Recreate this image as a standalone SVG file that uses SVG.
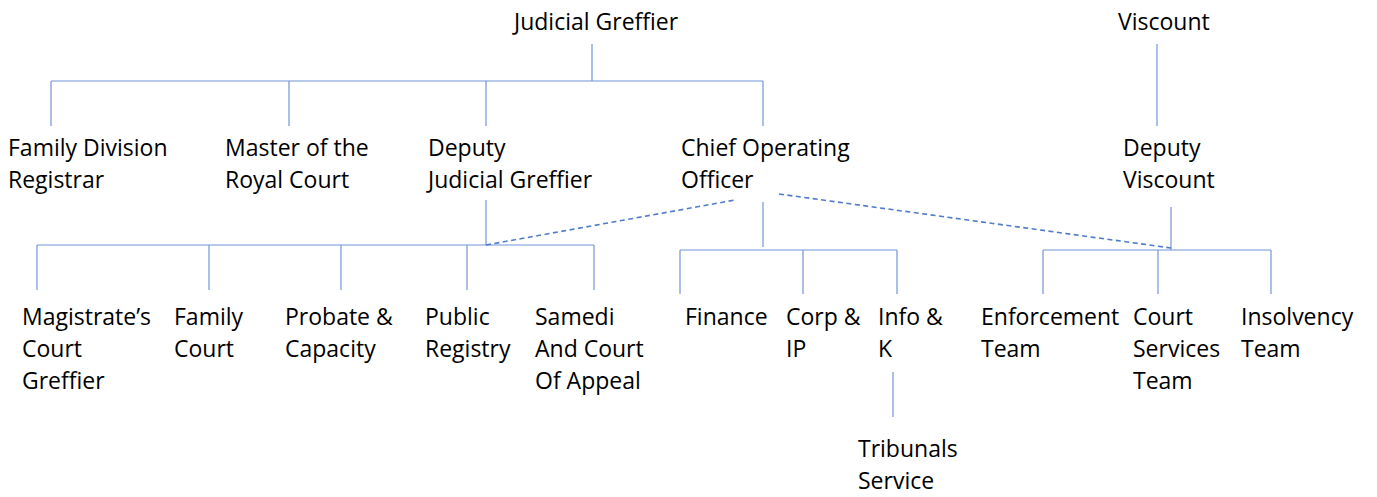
<svg xmlns="http://www.w3.org/2000/svg" width="1377" height="497" viewBox="0 0 1377 497">
<style>
text{font-family:"Open Sans","Noto Sans","Liberation Sans",sans-serif;font-size:23px;fill:#000}
.l{stroke:#7396d8;stroke-width:1.2;fill:none}
.d{stroke:#4f7bc8;stroke-width:1.6;fill:none;stroke-dasharray:5 3.5}
</style>
<rect width="1377" height="497" fill="#fff"/>
<g id="connectors">
<path class="l" d="M592 44V81M51 81H763M51 81V126M289 81V126M486 81V126M763 81V126"/>
<path class="l" d="M1157 44V126"/>
<path class="l" d="M486 200V245M37 245H594M37 245V290M209 245V290M341 245V290M467 245V290M594 245V290"/>
<path class="l" d="M763 202V247M680 250H897M680 250V294M803 250V294M897 250V294"/>
<path class="l" d="M1171 207V250M1043 250H1271M1043 250V294M1158 250V294M1271 250V294"/>
<path class="l" d="M893 372V417"/>
<path class="d" d="M486 245L735 200"/>
<path class="d" d="M779 194L1171 248"/>
</g>
<g id="judicial-greffier"><text x="514" y="30">Judicial Greffier</text></g>
<g id="viscount"><text x="1118" y="30">Viscount</text></g>
<g id="family-division-registrar"><text x="8" y="156">Family Division</text><text x="8" y="188">Registrar</text></g>
<g id="master-royal-court"><text x="225" y="156">Master of the</text><text x="225" y="188">Royal Court</text></g>
<g id="deputy-judicial-greffier"><text x="428" y="156">Deputy</text><text x="428" y="188">Judicial Greffier</text></g>
<g id="chief-operating-officer"><text x="681" y="156">Chief Operating</text><text x="681" y="188">Officer</text></g>
<g id="deputy-viscount"><text x="1123" y="156">Deputy</text><text x="1123" y="188">Viscount</text></g>
<g id="magistrates-court-greffier"><text x="22" y="325">Magistrate’s</text><text x="22" y="357">Court</text><text x="22" y="389">Greffier</text></g>
<g id="family-court"><text x="174" y="325">Family</text><text x="174" y="357">Court</text></g>
<g id="probate-capacity"><text x="285" y="325">Probate &amp;</text><text x="285" y="357">Capacity</text></g>
<g id="public-registry"><text x="425" y="325">Public</text><text x="425" y="357">Registry</text></g>
<g id="samedi"><text x="535" y="325">Samedi</text><text x="535" y="357">And Court</text><text x="535" y="389">Of Appeal</text></g>
<g id="finance"><text x="685" y="325">Finance</text></g>
<g id="corp-ip"><text x="786" y="325">Corp &amp;</text><text x="786" y="357">IP</text></g>
<g id="info-k"><text x="878" y="325">Info &amp;</text><text x="878" y="357">K</text></g>
<g id="tribunals-service"><text x="858" y="457">Tribunals</text><text x="858" y="489">Service</text></g>
<g id="enforcement-team"><text x="981" y="325">Enforcement</text><text x="981" y="357">Team</text></g>
<g id="court-services-team"><text x="1133" y="325">Court</text><text x="1133" y="357">Services</text><text x="1133" y="389">Team</text></g>
<g id="insolvency-team"><text x="1241" y="325">Insolvency</text><text x="1241" y="357">Team</text></g>
</svg>
